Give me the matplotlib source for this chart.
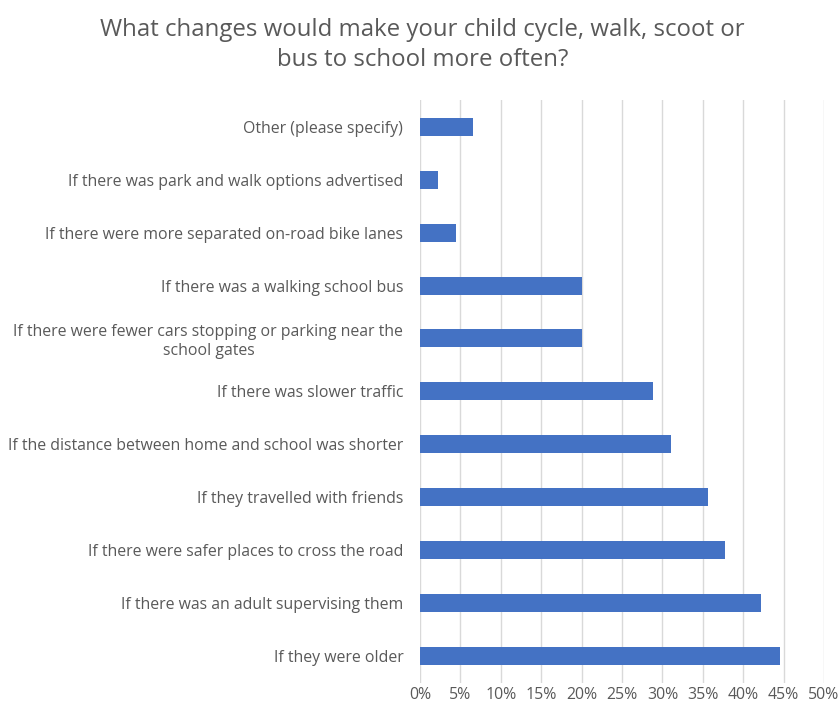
import matplotlib
matplotlib.use('Agg')
import matplotlib.pyplot as plt
from matplotlib.ticker import PercentFormatter

# survey answers, top of chart first
categories = [
    'Other (please specify)',
    'If there was park and walk options advertised',
    'If there were more separated on-road bike lanes',
    'If there was a walking school bus',
    'If there were fewer cars stopping or parking near the\nschool gates',
    'If there was slower traffic',
    'If the distance between home and school was shorter',
    'If they travelled with friends',
    'If there were safer places to cross the road',
    'If there was an adult supervising them',
    'If they were older',
]
shares = [6.6, 2.2, 4.4, 20.0, 20.0, 28.8, 31.1, 35.6, 37.8, 42.2, 44.5]
x_ticks = [0, 5, 10, 15, 20, 25, 30, 35, 40, 45, 50]

text_color = '#595959'
plt.rcParams['font.family'] = ['Open Sans', 'DejaVu Sans']

fig = plt.figure(figsize=(8.4, 7.11), dpi=100)
ax = fig.add_axes([0.5, 0.04, 0.481, 0.819])

positions = list(range(len(categories)))[::-1]
ax.barh(positions, shares, height=0.34, color='#4472C4', zorder=3)

ax.set_xlim(0, 50)
ax.set_ylim(-0.5, len(categories) - 0.5)
ax.set_xticks(x_ticks)
ax.xaxis.set_major_formatter(PercentFormatter(decimals=0))
ax.set_yticks(positions)
ax.set_yticklabels(categories, multialignment='center', linespacing=1.25)

ax.grid(axis='x', color='#D9D9D9', linewidth=1.0, zorder=0)
for spine in ax.spines.values():
    spine.set_visible(False)
ax.tick_params(axis='both', length=0, colors=text_color, labelsize=11.4)
ax.tick_params(axis='y', pad=12)
ax.tick_params(axis='x', pad=3)

fig.suptitle('What changes would make your child cycle, walk, scoot or\nbus to school more often?',
             x=0.503, y=0.975, fontsize=17.3, color=text_color, linespacing=1.35)

fig.savefig('out.png', dpi=100)
